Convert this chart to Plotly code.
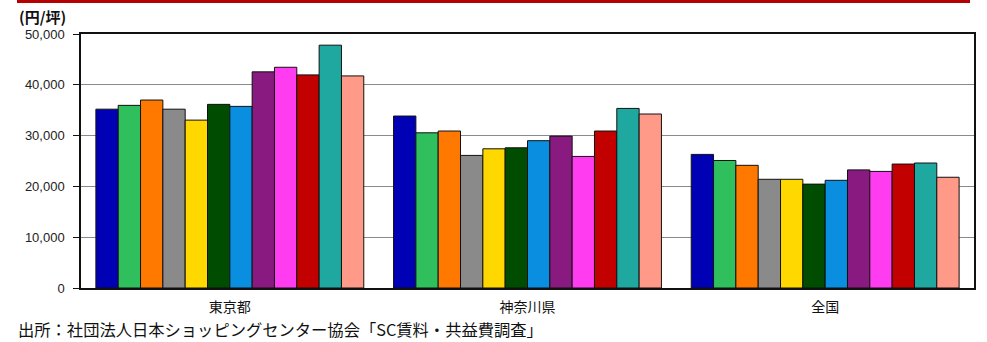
import plotly.graph_objects as go

categories = ["東京都", "神奈川県", "全国"]
series_names = ["系列1", "系列2", "系列3", "系列4", "系列5", "系列6",
                "系列7", "系列8", "系列9", "系列10", "系列11", "系列12"]
tokyo = [35200, 35950, 37000, 35200, 33050, 36150, 35750, 42550, 43450, 41950, 47800, 41750]
kanagawa = [33850, 30550, 30900, 26100, 27400, 27600, 29000, 29900, 25900, 30900, 35350, 34250]
zenkoku = [26300, 25100, 24150, 21400, 21400, 20450, 21200, 23250, 22950, 24400, 24600, 21800]
colors = ["#0000b4", "#2fbf5c", "#ff7800", "#8a8a8a", "#ffd800", "#004c00",
          "#0a8ee0", "#881a80", "#ff3cf0", "#c20000", "#1fa8a0", "#ff9a88"]
tick_vals = [0, 10000, 20000, 30000, 40000, 50000]
tick_text = ["0", "10,000", "20,000", "30,000", "40,000", "50,000"]

fig = go.Figure()
for i, name in enumerate(series_names):
    fig.add_trace(go.Bar(
        name=name,
        x=categories,
        y=[tokyo[i], kanagawa[i], zenkoku[i]],
        marker=dict(color=colors[i], line=dict(color="#111111", width=1)),
    ))

fig.update_layout(
    barmode="group",
    bargap=0.1,
    bargroupgap=0,
    showlegend=False,
    width=987, height=342,
    margin=dict(l=81, r=13, t=34, b=54),
    paper_bgcolor="white",
    plot_bgcolor="white",
    font=dict(family="Liberation Sans, Arial, Noto Sans CJK JP", color="#222222", size=13),
    xaxis=dict(
        showline=True, linecolor="#111111", linewidth=1.5, mirror=True,
        tickfont=dict(family="Noto Sans CJK JP", size=14, color="#111111"),
        ticks="", ticklabelstandoff=5,
    ),
    yaxis=dict(
        range=[0, 50000],
        tickvals=tick_vals, ticktext=tick_text,
        showline=True, linecolor="#111111", linewidth=1.5, mirror=True,
        ticks="outside", ticklen=6, tickcolor="#111111",
        ticklabelstandoff=6,
        showgrid=True, gridcolor="#8a8a8a", gridwidth=1,
        zeroline=False,
        tickfont=dict(family="Liberation Sans, Arial", size=13, color="#222222"),
    ),
)

fig.add_shape(type="rect", xref="paper", yref="paper",
              x0=(17 - 81) / 893, x1=(970 - 81) / 893,
              y0=(288 - 3) / 254, y1=(288 - 0) / 254,
              fillcolor="#b40000", line=dict(width=0), layer="above")

fig.add_annotation(text="<b>(円/坪)</b>", xref="paper", yref="paper",
                   x=(17 - 81) / 893, y=(288 - 17) / 254,
                   xanchor="left", yanchor="middle", showarrow=False,
                   font=dict(family="Noto Sans CJK JP", size=15, color="#111111"))
fig.add_annotation(text="出所：社団法人日本ショッピングセンター協会「SC賃料・共益費調査」",
                   xref="paper", yref="paper",
                   x=(17 - 81) / 893, y=(288 - 342) / 254,
                   xanchor="left", yanchor="bottom", showarrow=False,
                   borderpad=0,
                   font=dict(family="Noto Sans CJK JP", size=16.3, color="#111111"))

fig.write_html("out.html", config={"displayModeBar": False},
               post_script="document.body.style.margin='0';")
